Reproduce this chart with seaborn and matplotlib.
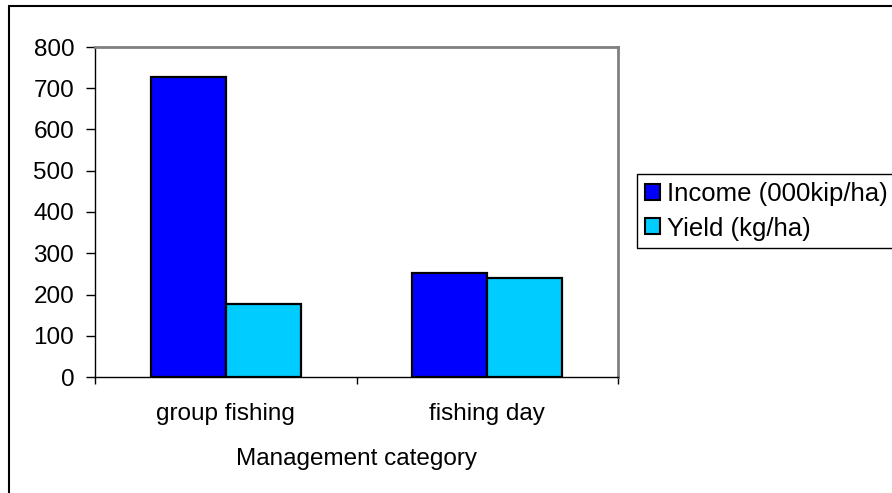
import matplotlib
matplotlib.use("Agg")
import matplotlib.pyplot as plt
from matplotlib.lines import Line2D
from matplotlib.patches import Patch
import seaborn as sns
import pandas as pd

categories = ["group fishing", "fishing day"]
income = [727, 252]
yield_ = [177, 240]
series_names = ["Income (000kip/ha)", "Yield (kg/ha)"]
colors = ["#0000FF", "#00CCFF"]
y_ticks = [0, 100, 200, 300, 400, 500, 600, 700, 800]

df = pd.DataFrame({
    "category": categories * 2,
    "series": [series_names[0]] * 2 + [series_names[1]] * 2,
    "value": income + yield_,
})

sns.set_theme(style="white")
plt.rcParams["font.family"] = ["Liberation Sans", "DejaVu Sans"]
plt.rcParams["text.color"] = "black"
plt.rcParams["axes.labelcolor"] = "black"
plt.rcParams["xtick.color"] = "black"
plt.rcParams["ytick.color"] = "black"

FS = 17.5

fig = plt.figure(figsize=(8.92, 4.93), dpi=100)
ax = fig.add_axes([95 / 892, 1 - 377 / 493, (618 - 95) / 892, (377 - 47) / 493])

sns.barplot(data=df, x="category", y="value", hue="series", order=categories,
            hue_order=series_names, palette=colors, width=0.575, gap=0,
            edgecolor="black", linewidth=1.6, saturation=1, ax=ax, legend=False)

ax.set_xlim(-0.5, 1.5)
ax.set_ylim(0, 800)
ax.set_yticks(y_ticks)
ax.tick_params(axis="y", which="major", direction="out", length=6.5, width=1,
               color="black", labelcolor="black", labelsize=FS, pad=8.5, left=True)
ax.set_xticks([0, 1])
ax.set_xticklabels(categories)
ax.tick_params(axis="x", which="major", length=0, labelsize=FS, pad=19,
               labelcolor="black")
ax.set_xticks([-0.5, 0.5, 1.5], minor=True)
ax.tick_params(axis="x", which="minor", direction="out", length=5, width=1,
               color="black", bottom=True)
ax.set_xlabel("Management category", fontsize=FS, labelpad=16, color="black")
ax.set_ylabel("")

for side in ["top", "right"]:
    ax.spines[side].set_visible(True)
    ax.spines[side].set_color("#808080")
    ax.spines[side].set_linewidth(2)
for side in ["left", "bottom"]:
    ax.spines[side].set_visible(True)
    ax.spines[side].set_color("black")
    ax.spines[side].set_linewidth(1)
ax.spines["bottom"].set_zorder(5)

# outer chart frame
fig.add_artist(Line2D([9 / 892, 9 / 892], [1 - 6 / 493, 0], transform=fig.transFigure,
                      color="black", lw=1.5))
fig.add_artist(Line2D([9 / 892, 1], [1 - 6 / 493, 1 - 6 / 493], transform=fig.transFigure,
                      color="black", lw=1.5))

handles = [Patch(facecolor=c, edgecolor="black", linewidth=1.5) for c in colors]
leg = fig.legend(handles, series_names, loc="upper left",
                 bbox_to_anchor=(637 / 892, 1 - 174 / 493), bbox_transform=fig.transFigure,
                 fontsize=18.5, frameon=True, fancybox=False, edgecolor="black",
                 framealpha=1, handlelength=0.58, handleheight=0.58,
                 handletextpad=0.3, borderpad=0.3, labelspacing=0.42,
                 borderaxespad=0)
leg.get_frame().set_linewidth(1)

fig.savefig("out.png", dpi=100)
